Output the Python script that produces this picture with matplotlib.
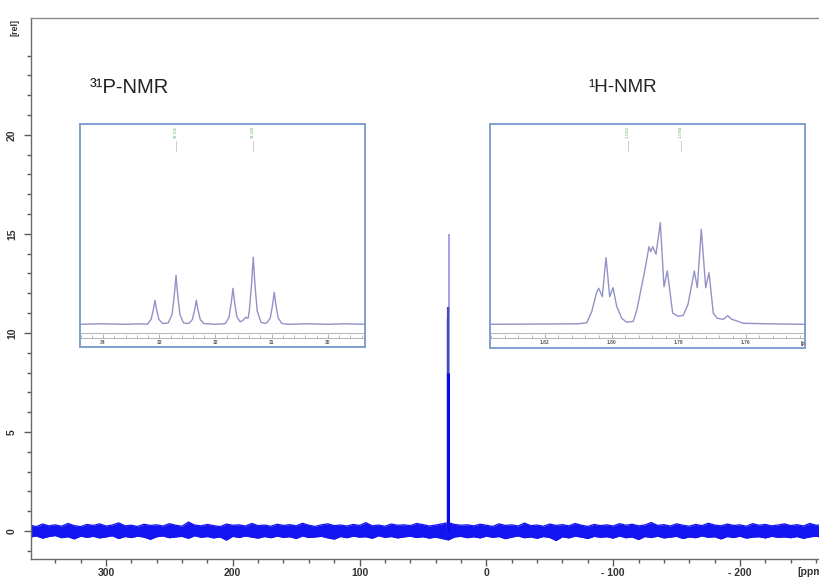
import matplotlib
matplotlib.use("Agg")
import matplotlib.pyplot as plt
from matplotlib.ticker import MultipleLocator, FixedLocator
import matplotlib.transforms as mtransforms

plt.rcParams['font.family'] = ['Liberation Sans', 'DejaVu Sans']

# ---------------- data ----------------
# main 31P spectrum: noise band envelope (ppm, upper, lower)
noise_ppm = [360 - 5 * i for i in range(127)]
noise_high = [
    0.30, 0.22, 0.35, 0.26, 0.31, 0.24, 0.38, 0.27, 0.22, 0.33,
    0.28, 0.36, 0.25, 0.30, 0.41, 0.26, 0.29, 0.23, 0.34, 0.28,
    0.31, 0.25, 0.37, 0.29, 0.24, 0.45, 0.30, 0.26, 0.33, 0.27,
    0.22, 0.35, 0.29, 0.31, 0.25, 0.38, 0.27, 0.30, 0.24, 0.34,
    0.28, 0.32, 0.26, 0.39, 0.29, 0.23, 0.31, 0.36, 0.27, 0.30,
    0.25, 0.33, 0.28, 0.42, 0.26, 0.30, 0.24, 0.35, 0.29, 0.31,
    0.27, 0.38, 0.32, 0.25, 0.30, 0.36, 0.42, 0.33, 0.29, 0.31,
    0.26, 0.34, 0.29, 0.23, 0.36, 0.28, 0.31, 0.25, 0.40, 0.27,
    0.30, 0.24, 0.35, 0.28, 0.32, 0.26, 0.38, 0.29, 0.23, 0.33,
    0.27, 0.31, 0.25, 0.37, 0.29, 0.34, 0.26, 0.30, 0.43, 0.28,
    0.32, 0.25, 0.36, 0.29, 0.24, 0.33, 0.27, 0.39, 0.30, 0.26,
    0.35, 0.28, 0.31, 0.24, 0.37, 0.29, 0.33, 0.26, 0.30, 0.36,
    0.27, 0.32, 0.25, 0.38, 0.29, 0.31, 0.26]
noise_low = [
    -0.31, -0.25, -0.36, -0.28, -0.23, -0.34, -0.29, -0.40, -0.26, -0.32,
    -0.27, -0.35, -0.30, -0.24, -0.38, -0.28, -0.33, -0.26, -0.31, -0.42,
    -0.29, -0.25, -0.34, -0.30, -0.27, -0.37, -0.24, -0.32, -0.28, -0.35,
    -0.30, -0.46, -0.27, -0.33, -0.25, -0.31, -0.36, -0.28, -0.34, -0.26,
    -0.32, -0.29, -0.38, -0.25, -0.33, -0.30, -0.27, -0.35, -0.41, -0.28,
    -0.34, -0.26, -0.31, -0.29, -0.37, -0.24, -0.32, -0.28, -0.35, -0.30,
    -0.26, -0.33, -0.29, -0.36, -0.31, -0.38, -0.45, -0.30, -0.27, -0.34,
    -0.29, -0.35, -0.26, -0.32, -0.28, -0.39, -0.31, -0.25, -0.34, -0.30,
    -0.37, -0.28, -0.33, -0.48, -0.29, -0.35, -0.26, -0.31, -0.38, -0.27,
    -0.32, -0.29, -0.36, -0.25, -0.34, -0.30, -0.43, -0.28, -0.33, -0.26,
    -0.35, -0.31, -0.27, -0.38, -0.30, -0.34, -0.25, -0.32, -0.29, -0.40,
    -0.28, -0.33, -0.26, -0.36, -0.31, -0.29, -0.35, -0.27, -0.32, -0.30,
    -0.34, -0.28, -0.37, -0.30, -0.26, -0.33, -0.29]

# main signal lines (ppm, height)
peak_ppm = [31.3, 29.3, 30.0, 30.0]
peak_height = [10.75, 15.0, 11.3, 8.0]

x_major = [300, 200, 100, 0, -100, -200]
x_major_labels = ['300', '200', '100', '0', '- 100', '- 200']
y_major = [0, 5, 10, 15, 20]
y_minor = [-1, 1, 2, 3, 4, 6, 7, 8, 9, 11, 12, 13, 14, 16, 17, 18, 19, 21, 22, 23, 24]

# inset 1: 31P expansion
p31_ppm = [34.45, 34.0, 33.6, 33.3, 33.21, 33.146, 33.106, 33.076, 33.046, 33.006,
           32.94, 32.89, 32.84, 32.772, 32.732, 32.702, 32.672, 32.632, 32.57,
           32.52, 32.47, 32.411, 32.371, 32.341, 32.311, 32.271, 32.21, 32.0, 31.85,
           31.82, 31.759, 31.719, 31.689, 31.659, 31.619, 31.56, 31.51, 31.463, 31.42,
           31.398, 31.358, 31.328, 31.298, 31.258, 31.19, 31.12, 31.085, 31.025,
           30.985, 30.955, 30.925, 30.885, 30.82, 30.7, 30.4, 30.0, 29.7, 29.3]
p31_int = [0, 0.5, 0, 0.5, 0, 4.8, 14.4, 24, 14.4, 4.8,
           0.8, 1.0, 1.5, 9.8, 29.4, 49, 29.4, 9.8, 1.5,
           0.8, 1.0, 4.8, 14.4, 24, 14.4, 4.8, 0.8, 0, 0.5,
           1.0, 7.2, 21.6, 36, 21.6, 7.2, 2.5, 4, 7, 6,
           13.4, 40, 67, 40, 13.4, 2, 1, 1.5, 6.4,
           19.2, 32, 19.2, 6.4, 0.8, 0, 0.5, 0, 0.5, 0]
p31_ticks = [34, 33, 32, 31, 30]
p31_marks = [32.702, 31.328]
p31_mark_labels = ['32.702', '31.328']

# inset 2: 1H expansion
h1_ppm = [1.8364, 1.8200, 1.8100, 1.80755, 1.80606, 1.80457, 1.80397, 1.80290,
          1.80233, 1.80179, 1.80125, 1.80069, 1.79970, 1.79860, 1.79710, 1.79561,
          1.79364, 1.79254, 1.79113, 1.79015, 1.78896, 1.78845, 1.78785, 1.78687,
          1.78558, 1.78448, 1.78349, 1.78188, 1.78021, 1.77872, 1.77731, 1.77543,
          1.77454, 1.77334, 1.77203, 1.77104, 1.76976, 1.76857, 1.76678, 1.76546,
          1.76427, 1.76328, 1.76081, 1.7500, 1.7424]
h1_int = [0, 0.3, 0.5, 1.5, 12.6, 32, 36, 27.6,
          48, 66.6, 48, 27.6, 36.6, 18, 6, 2,
          3, 15, 38.6, 55, 77.6, 72.6, 77.6, 70,
          101.6, 37.6, 53.3, 11, 8, 9, 20, 53.3,
          36.6, 95, 36.6, 51.6, 11, 6, 5, 8.6,
          5, 4, 1, 0.3, 0]
h1_ticks = [1.82, 1.80, 1.78, 1.76]
h1_marks = [1.7952, 1.7794]
h1_mark_labels = ['1.7952', '1.7794']

# ---------------- figure ----------------
W, H = 819, 579
fig = plt.figure(figsize=(W / 100, H / 100), dpi=100)


def fx(px):
    return px / W


def fy(py):
    return 1 - py / H


ax = fig.add_axes([fx(31), fy(559), fx(830) - fx(31), fy(18) - fy(559)])
ax.set_xlim(359.1, -271.0)
ax.set_ylim(-1.415, 25.9)

blue = '#1414f0'
ax.fill_between(noise_ppm, noise_low, noise_high, color=blue, lw=0)
ax.plot(noise_ppm, noise_high, color=blue, lw=0.9)
ax.plot(noise_ppm, noise_low, color=blue, lw=0.9)

peak_colors = ['#6f6fd2', '#8787dc', '#4646c6', '#0a0af2']
peak_lw = [1.0, 1.1, 1.6, 2.2]
for p, h, c, w in zip(peak_ppm, peak_height, peak_colors, peak_lw):
    ax.vlines(p, 0, h, color=c, lw=w)

ax.spines['right'].set_visible(False)
ax.spines['top'].set_color('#8a8a8a')
ax.spines['left'].set_color('#6a6a6a')
ax.spines['bottom'].set_color('#6a6a6a')
for s in ['top', 'left', 'bottom']:
    ax.spines[s].set_linewidth(1.0)

ax.xaxis.set_major_locator(FixedLocator(x_major))
ax.set_xticklabels(x_major_labels)
ax.xaxis.set_minor_locator(MultipleLocator(20))
ax.yaxis.set_major_locator(FixedLocator(y_major))
ax.yaxis.set_minor_locator(FixedLocator(y_minor))
ax.tick_params(axis='both', which='major', direction='out', length=5, width=1,
               color='#5a5a5a', labelsize=7.5, labelcolor='#333333')
ax.tick_params(axis='both', which='minor', direction='out', length=3, width=1,
               color='#5a5a5a')
ax.tick_params(axis='x', pad=1.5)
ax.tick_params(axis='y', labelrotation=90, pad=5)
for lab in ax.get_xticklabels() + ax.get_yticklabels():
    lab.set_fontweight('bold')
for lab in ax.get_yticklabels():
    lab.set_verticalalignment('center')

fig.text(fx(797), fy(572), '[ppm]', ha='left', va='center', fontsize=7.5,
         fontweight='bold', color='#333333')
fig.text(fx(15), fy(27), '[rel]', rotation=90, ha='center', va='center',
         fontsize=6.5, fontweight='bold', color='#333333')

# ---------------- insets ----------------
frame_col = '#7f9fcf'
line_col = '#9392c8'
green = '#55aa55'


def make_inset(box, xlim, xvals, yvals, ticks, tick_labels, minor_step,
               marks, mark_labels):
    x0, y0, x1, y1 = box
    hpx = y1 - y0
    ia = fig.add_axes([fx(x0), fy(y1), fx(x1) - fx(x0), fy(y0) - fy(y1)], zorder=5)
    ia.set_facecolor('white')
    ia.set_xlim(*xlim)
    base = (y1 - 324.3)
    ia.set_ylim(-base, hpx - base)
    ia.plot(xvals, yvals, color=line_col, lw=1.0)
    ia.set_xticks([])
    ia.set_yticks([])
    for s in ia.spines.values():
        s.set_color(frame_col)
        s.set_linewidth(1.4)
    sec = ia.secondary_xaxis((y1 - 337.7) / hpx)
    sec.set_xticks(ticks)
    sec.set_xticklabels(tick_labels)
    sec.xaxis.set_minor_locator(MultipleLocator(minor_step))
    sec.tick_params(which='major', direction='in', length=3, width=0.6,
                    color='#a0a0a0', labelsize=3.5, labelcolor='#555555', pad=2)
    sec.tick_params(which='minor', direction='in', length=2, width=0.5,
                    color='#a0a0a0')
    for s in sec.spines.values():
        s.set_color('#a8a8a8')
        s.set_linewidth(0.6)
    for lab in sec.get_xticklabels():
        lab.set_fontweight('bold')
    ia.plot([0, 1], [(y1 - 333.3) / hpx] * 2, transform=ia.transAxes,
            color='#a8a8a8', lw=0.6)
    tr = mtransforms.blended_transform_factory(ia.transData, ia.transAxes)
    for m, ml in zip(marks, mark_labels):
        ia.text(m, (y1 - 126) / hpx, ml, rotation=90, color=green, fontsize=2.8,
                ha='center', va='top', transform=tr)
        ia.plot([m, m], [(y1 - 141) / hpx, (y1 - 151) / hpx], transform=tr,
                color='#b8b8b8', lw=0.5)
    return ia


make_inset((80, 124, 365, 347), (34.41, 29.34), p31_ppm, p31_int,
           p31_ticks, [str(t) for t in p31_ticks], 0.2, p31_marks, p31_mark_labels)
ia2 = make_inset((490, 124, 805, 348), (1.83642, 1.74239), h1_ppm, h1_int,
                 h1_ticks, ['%.2f' % t for t in h1_ticks], 0.004, h1_marks,
                 h1_mark_labels)
ia2.text(0.985, (348 - 343) / 224, '[ppm]', transform=ia2.transAxes, fontsize=3.5,
         ha='left', va='center', color='#555555', clip_on=True, fontweight='bold')

fig.text(fx(90), fy(88), '³¹P-NMR', fontsize=14.5, ha='left', va='center', color='#222222')
fig.text(fx(588), fy(88), '¹H-NMR', fontsize=13.5, ha='left', va='center', color='#222222')

fig.savefig('out.png', dpi=100)
